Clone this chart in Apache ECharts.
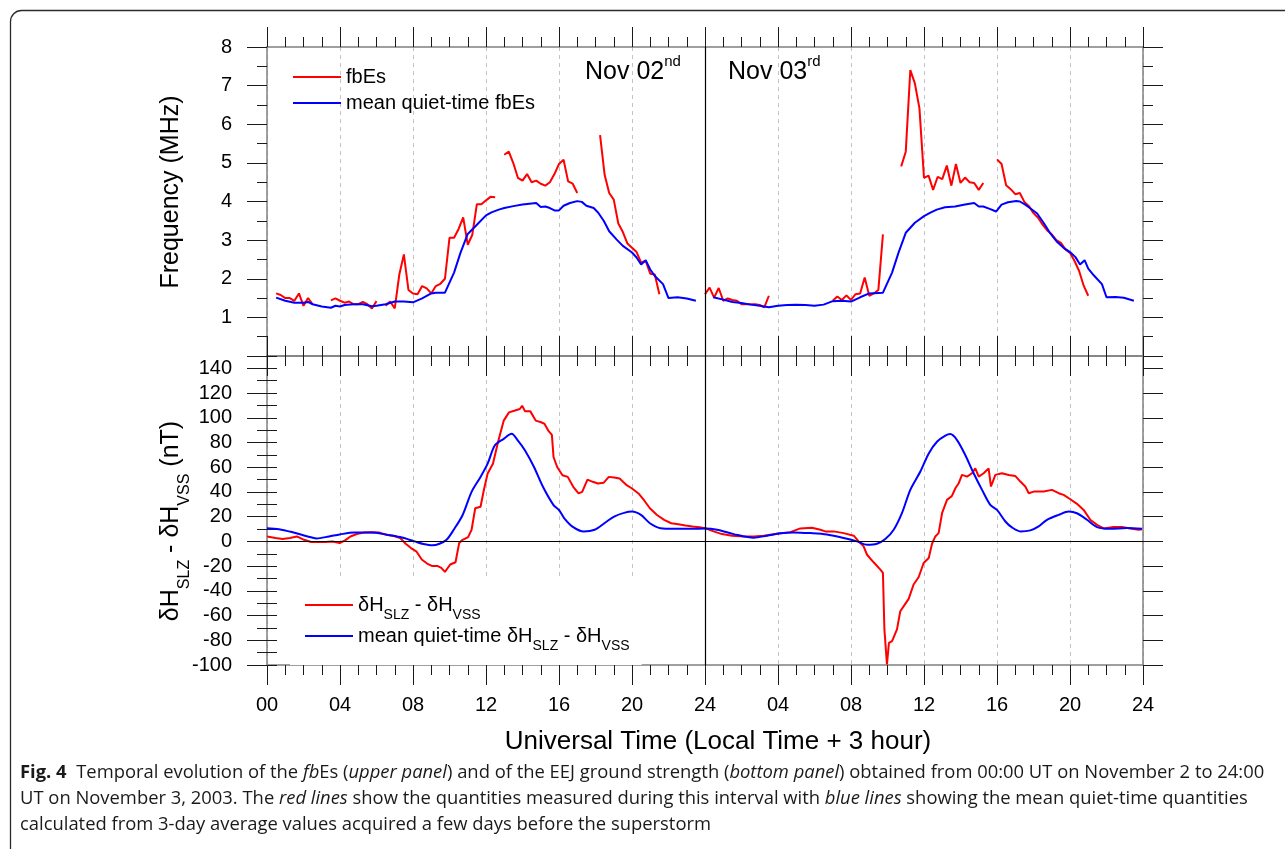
<!DOCTYPE html>
<html>
<head>
<meta charset="utf-8">
<script src="https://cdn.jsdelivr.net/npm/echarts@6/dist/echarts.min.js"></script>
<style>
html,body{margin:0;padding:0;background:#fff;}
#chart{width:1285px;height:849px;}
</style>
</head>
<body>
<div id="chart"></div>
<script>
// ---------- tick labels ----------
const xTickLabels = ['00','04','08','12','16','20','24','04','08','12','16','20','24'];

// ---------- upper panel: fbEs (MHz), null = gap ----------
const fbesHours = [
  0.5,0.75,1.0,1.25,1.5,1.75,2.0,2.25,2.5, 3.0,
  3.5,3.75,4.0,4.25,4.5,4.75,5.0,5.25,5.5,5.75,6.0, 6.25,
  6.5,6.75,7.0,7.25,7.5,7.75,8.0,8.25,8.5,8.75,9.0,9.25,9.5,9.75,10.0,10.25,10.5,10.75,11.0,11.25,11.5,11.75,12.0,12.25,12.5, 12.75,
  13.0,13.25,13.5,13.75,14.0,14.25,14.5,14.75,15.0,15.25,15.5,15.75,16.0,16.25,16.5,16.75,17.0, 17.5,
  18.25,18.5,18.75,19.0,19.25,19.5,19.75,20.0,20.25,20.5,20.75,21.0,21.25,21.5, 22.5,
  24.0,24.25,24.5,24.75,25.0,25.25,25.5,25.75,26.0,26.25,26.5,26.75,27.0,27.25,27.5, 29.0,
  31.0,31.25,31.5,31.75,32.0,32.25,32.5,32.75,33.0,33.25,33.5,33.75, 34.25,
  34.75,35.0,35.25,35.5,35.75,36.0,36.25,36.5,36.75,37.0,37.25,37.5,37.75,38.0,38.25,38.5,38.75,39.0,39.25, 39.6,
  40.0,40.25,40.5,40.75,41.0,41.25,41.5,41.75,42.0,42.25,42.5,42.75,43.0,43.25,43.5,43.75,44.0,44.25,44.5,44.75,45.0
];
const fbesMHz = [
  1.62,1.58,1.50,1.50,1.43,1.62,1.30,1.50,1.34, null,
  1.44,1.49,1.43,1.38,1.41,1.34,1.34,1.40,1.34,1.23,1.42, null,
  1.30,1.41,1.23,2.11,2.63,1.71,1.62,1.60,1.81,1.75,1.62,1.81,1.87,2.00,3.06,3.06,3.29,3.59,2.88,3.14,3.93,3.93,4.03,4.12,4.11, null,
  5.21,5.29,4.99,4.61,4.54,4.71,4.50,4.54,4.46,4.41,4.50,4.71,4.97,5.08,4.52,4.46,4.22, null,
  5.72,4.69,4.22,4.05,3.43,3.21,2.91,2.80,2.69,2.42,2.46,2.13,2.11,1.60, null,
  1.60,1.77,1.51,1.76,1.43,1.49,1.45,1.43,1.34,1.34,1.34,1.34,1.32,1.26,1.56, null,
  1.43,1.54,1.45,1.57,1.45,1.60,1.62,2.03,1.56,1.62,1.71,3.15, null,
  4.91,5.29,7.40,7.06,6.41,4.61,4.67,4.30,4.64,4.58,4.93,4.41,4.97,4.48,4.62,4.50,4.48,4.30,4.48, null,
  5.09,4.97,4.42,4.32,4.19,4.22,3.99,3.88,3.70,3.58,3.40,3.25,3.15,3.00,2.93,2.76,2.67,2.46,2.20,1.82,1.56
];

// ---------- upper panel: mean quiet-time fbEs ----------
const fbesMeanHours = [
  0.5,1.0,1.5,2.0,2.25,2.5,3.0,3.5,3.75,4.0,4.25,4.75,5.25,5.75,6.0,6.5,7.0,7.5,8.0,8.5,9.0,9.25,9.75,
  10.25,10.6,11.0,11.5,12.0,12.3,12.7,13.0,13.5,14.0,14.5,14.75,15.0,15.25,15.5,15.75,16.0,16.25,16.6,17.0,
  17.25,17.5,17.9,18.15,18.45,18.75,19.15,19.5,20.0,20.25,20.5,20.75,21.0,21.25,21.7,22.0,22.5,23.0,23.5, 23.95,
  24.45,25.0,25.5,26.0,26.5,27.0,27.5,28.0,28.5,29.0,29.5,30.0,30.5,31.0,31.5,32.0,32.5,33.0,33.75,
  34.25,34.6,35.0,35.5,36.0,36.35,36.7,37.15,37.7,38.25,38.75,39.0,39.25,39.6,39.95,40.25,40.6,41.05,41.25,
  41.55,41.8,42.2,42.55,42.9,43.3,43.65,44.0,44.3,44.55,44.8,45.0,45.3,45.75,46.0,46.5,46.95,47.5
];
const fbesMeanMHz = [
  1.51,1.43,1.38,1.38,1.40,1.34,1.28,1.25,1.30,1.28,1.32,1.34,1.34,1.29,1.30,1.34,1.41,1.41,1.39,1.49,1.62,1.64,1.64,
  2.16,2.67,3.16,3.40,3.64,3.72,3.79,3.83,3.88,3.92,3.95,3.96,3.86,3.87,3.83,3.77,3.77,3.89,3.96,4.01,
  3.99,3.89,3.83,3.71,3.50,3.23,3.02,2.85,2.68,2.55,2.37,2.48,2.24,2.07,1.86,1.50,1.52,1.49,1.43, null,
  1.52,1.46,1.40,1.37,1.33,1.30,1.26,1.30,1.32,1.33,1.32,1.30,1.33,1.42,1.43,1.41,1.52,1.62,1.64,
  2.16,2.67,3.19,3.45,3.62,3.71,3.79,3.85,3.87,3.92,3.96,3.87,3.87,3.81,3.74,3.92,3.98,4.01,4.00,
  3.92,3.83,3.69,3.45,3.19,2.95,2.80,2.69,2.56,2.37,2.48,2.26,2.09,1.86,1.52,1.53,1.51,1.43
];

// ---------- lower panel: dH_SLZ - dH_VSS (nT) ----------
const dhHours = [
  0,0.47,0.86,1.25,1.64,2.03,2.42,2.81,3.2,3.59,3.98,4.28,4.57,4.96,5.35,5.74,6.13,6.52,6.91,7.3,7.6,7.89,8.18,8.48,8.77,
  9.06,9.36,9.55,9.75,10.04,10.33,10.53,10.72,11.02,11.21,11.41,11.7,11.9,12.09,12.38,12.68,12.97,13.26,13.55,13.85,13.98,
  14.14,14.43,14.73,15.02,15.21,15.41,15.61,15.7,15.9,16.19,16.48,16.78,17.07,17.27,17.56,17.85,18.14,18.44,18.73,19.02,
  19.32,19.71,20.0,20.39,20.68,20.98,21.37,21.76,22.15,22.54,22.93,23.32,23.71,24.0,
  24.47,24.93,25.48,26.12,26.67,27.21,27.95,28.68,29.22,29.86,30.32,30.59,31.05,31.6,32.15,32.42,32.69,32.88,33.24,33.61,
  33.75,33.83,33.97,34.08,34.25,34.52,34.7,34.89,35.16,35.43,35.71,35.98,36.26,36.44,36.62,36.8,36.99,37.26,37.53,37.72,
  37.9,38.08,38.36,38.63,38.81,39.0,39.27,39.54,39.67,39.91,40.27,40.64,41.0,41.28,41.55,41.74,42.01,42.56,43.01,43.38,
  43.65,44.02,44.38,44.75,45.11,45.48,45.84,46.39,46.85,47.31,47.76,47.95
];
const dhValues = [
  4.0,2.7,1.9,2.7,4.0,1.3,-0.5,-0.5,-0.5,0,-1.3,0.8,4.0,6.2,7.2,7.5,7.2,5.4,4.6,2.7,-1.9,-5.4,-8.0,-14.7,-17.9,
  -20,-20,-21.4,-24.6,-18.7,-16.9,-1.3,1.3,3.5,9.4,26.8,28,42.8,54.9,62.9,81.6,97.7,104.4,105.7,107.1,109.7,
  105.2,105.2,97.7,96.4,95,89.7,86.2,68.3,60.2,53.5,52.2,44.2,38.8,40.1,50,48.2,46.8,47.4,52.2,51.7,
  50.9,45.5,42.8,38.3,32.9,26.8,21.4,17.4,14.7,13.9,12.8,12.0,11.5,10.7,
  8.1,5.9,4.6,4.0,4.0,4.6,6.2,7.5,10.5,11.0,9.4,8.1,8.1,6.7,4.6,0,-4.0,-10.8,-16.9,-22.8,
  -25.5,-71.2,-99.5,-82,-80.6,-71.2,-56.5,-52.4,-46.5,-34.9,-28.8,-17.5,-13.4,-1.9,4.0,6.7,22.8,33.6,36.8,43,
  47,53.8,52.4,55.1,59.1,52.4,55.1,59.1,44.4,53.8,55.1,53.8,53.0,48.4,44.4,39.0,40.3,40.3,41.7,39.0,
  37.6,34.1,30.4,25.5,17.5,13.4,10.5,11.6,11.6,10.5,9.4,9.9
];

// ---------- lower panel: mean quiet-time dH ----------
const dhMeanHours = [
  0,0.66,1.45,2.23,2.71,3.4,3.98,4.77,5.74,6.52,7.3,8.09,8.57,9.06,9.45,9.84,10.23,10.72,11.21,11.7,12.09,12.48,12.97,
  13.4,13.75,14.14,14.63,15.12,15.7,16.0,16.29,16.78,17.36,17.95,18.54,19.02,19.61,20.0,20.49,20.98,21.56,22.34,23.32,24.0,
  24.66,25.57,26.67,27.4,28.13,28.86,29.77,30.68,31.6,32.33,32.88,33.42,33.88,34.34,34.79,35.25,35.8,36.26,36.71,37.17,
  37.44,37.81,38.26,38.72,39.18,39.63,40.0,40.46,40.82,41.28,41.83,42.28,42.74,43.38,43.93,44.38,44.93,45.48,46.21,47.12,47.95
];
const dhMeanValues = [
  10.7,9.9,7.2,4.0,2.4,4.0,5.6,7.2,7.2,5.6,3.5,0,-2.1,-3.2,-1.9,1.3,9.4,21.4,40.1,52.2,62.9,77.6,83,
  87,81.6,73.6,60.2,44.2,29.4,25.4,18.7,11.5,8.0,9.4,15.3,20.1,23.3,24.1,21.4,14.7,10.7,10.2,10.2,10.4,
  9.4,5.9,3.0,4.6,6.5,7.3,6.7,5.6,2.7,0,-2.7,-1.9,1.9,9.4,22.8,41.7,56.5,71.2,80.6,85.5,
  86.8,82,69.9,55.1,41.7,29.6,25.5,16.1,11.3,8.1,8.9,12.1,17.5,21.5,24.2,22.8,17.5,11.6,10.2,10.8,10.2
];

// ---------- build ----------
const FONT = '"Liberation Sans", Arial, Helvetica, sans-serif';
const CAP_FONT = '"Open Sans", "Noto Sans", sans-serif';
const RED = '#ff0000', BLUE = '#0000ff';
const AXIS_COLOR = '#808080', TICK_COLOR = '#1a1a1a';

function zip(h, v) { return h.map((x, i) => [x, v[i] === null ? '-' : v[i]]); }

function xAxisDef(gridIndex, position, showLabels, split) {
  return {
    type: 'value', gridIndex, position, min: 0, max: 48, interval: 4,
    axisLine: { show: true, onZero: false, lineStyle: { color: AXIS_COLOR, width: 1.5 } },
    axisTick: { show: true, inside: false, length: 20, lineStyle: { color: TICK_COLOR, width: 1 } },
    minorTick: { show: true, splitNumber: 4, length: 10, lineStyle: { color: TICK_COLOR, width: 1 } },
    axisLabel: { show: showLabels, margin: 30, fontSize: 20, color: '#000', fontFamily: FONT,
      formatter: v => xTickLabels[Math.round(v / 4)] },
    splitLine: { show: split, lineStyle: { color: '#c4c4c4', type: [4, 4], width: 1 } },
    minorSplitLine: { show: false }
  };
}
function yAxisDef(gridIndex, position, opts) {
  return Object.assign({
    type: 'value', gridIndex, position,
    axisLine: { show: true, onZero: false, lineStyle: { color: AXIS_COLOR, width: 1.5 } },
    axisTick: { show: true, inside: false, length: 20, lineStyle: { color: TICK_COLOR, width: 1 } },
    splitLine: { show: false },
    axisLabel: { show: false }
  }, opts);
}

const supRichLegend = {
  n: { fontSize: 20, fontFamily: FONT, color: '#000', lineHeight: 34 },
  s: { fontSize: 14, fontFamily: FONT, color: '#000', lineHeight: 14, verticalAlign: 'bottom' }
};

const option = {
  animation: false,
  backgroundColor: '#fff',
  grid: [
    { left: 267, top: 47, width: 876, height: 309, outerBoundsMode: 'none', containLabel: false },
    { left: 267, top: 356, width: 876, height: 309, outerBoundsMode: 'none', containLabel: false }
  ],
  xAxis: [
    xAxisDef(0, 'bottom', false, true),
    xAxisDef(0, 'top', false, false),
    xAxisDef(1, 'bottom', true, true),
    xAxisDef(1, 'top', false, false)
  ],
  yAxis: [
    yAxisDef(0, 'left', { min: 0, max: 8, interval: 1,
      minorTick: { show: true, splitNumber: 2, length: 10, lineStyle: { color: TICK_COLOR, width: 1 } },
      axisLabel: { show: true, margin: 35, fontSize: 20, color: '#000', fontFamily: FONT,
        formatter: v => (v === 0 ? '' : String(v)) } }),
    yAxisDef(0, 'right', { min: 0, max: 8, interval: 1,
      minorTick: { show: true, splitNumber: 2, length: 10, lineStyle: { color: TICK_COLOR, width: 1 } } }),
    yAxisDef(1, 'left', { min: -100, max: 150, interval: 20,
      axisLabel: { show: true, margin: 35, fontSize: 20, color: '#000', fontFamily: FONT, showMaxLabel: false,
        formatter: v => (v === 150 ? '' : String(v)) } }),
    yAxisDef(1, 'right', { min: -100, max: 150, interval: 20 }),
    yAxisDef(1, 'left', { min: -100, max: 150, interval: 10, axisLine: { show: false },
      axisTick: { show: true, inside: false, length: 10, lineStyle: { color: TICK_COLOR, width: 1 } } }),
    yAxisDef(1, 'right', { min: -100, max: 150, interval: 10, axisLine: { show: false },
      axisTick: { show: true, inside: false, length: 10, lineStyle: { color: TICK_COLOR, width: 1 } } })
  ],
  legend: [
    {
      data: ['fbEs', 'mean quiet-time fbEs'],
      orient: 'vertical', left: 293, top: 65, padding: 0,
      icon: 'rect', itemWidth: 48, itemHeight: 2, itemGap: 2,
      textStyle: { fontSize: 20, fontFamily: FONT, color: '#000', lineHeight: 24 },
      selectedMode: false
    },
    {
      data: ['dH', 'dHmean'],
      orient: 'vertical', left: 290, top: 580, padding: [15, 12, 12, 15],
      backgroundColor: '#fff',
      icon: 'rect', itemWidth: 48, itemHeight: 2, itemGap: 4,
      formatter: name => name === 'dH'
        ? '{n|δH}{s|SLZ}{n| - δH}{s|VSS}'
        : '{n|mean quiet-time δH}{s|SLZ}{n| - δH}{s|VSS}',
      textStyle: { fontSize: 20, fontFamily: FONT, color: '#000', rich: supRichLegend },
      selectedMode: false
    }
  ],
  graphic: [
    { type: 'rect', silent: true, z: 100,
      shape: { x: 10.5, y: 10.5, width: 1400, height: 1000, r: 11 },
      style: { fill: 'none', stroke: '#2b2b2b', lineWidth: 1.3 } },
    { type: 'text', x: 171, y: 192, rotation: Math.PI / 2, silent: true,
      style: { text: 'Frequency (MHz)', fontSize: 25, fontFamily: FONT, fill: '#000', align: 'center', verticalAlign: 'middle' } },
    { type: 'text', x: 171, y: 521, rotation: Math.PI / 2, silent: true,
      style: { text: '{n|δH}{s|SLZ}{n| - δH}{s|VSS}{n| (nT)}', align: 'center', verticalAlign: 'middle',
        rich: {
          n: { fontSize: 25, fontFamily: FONT, fill: '#000', lineHeight: 43 },
          s: { fontSize: 16, fontFamily: FONT, fill: '#000', lineHeight: 16, verticalAlign: 'bottom' }
        } } },
    { type: 'text', x: 585, y: 54, silent: true,
      style: { text: '{m|Nov 02}{s|nd}', align: 'left', verticalAlign: 'top',
        rich: {
          m: { fontSize: 25, fontFamily: FONT, fill: '#000', lineHeight: 37 },
          s: { fontSize: 15, fontFamily: FONT, fill: '#000', lineHeight: 16, verticalAlign: 'top' }
        } } },
    { type: 'text', x: 728, y: 54, silent: true,
      style: { text: '{m|Nov 03}{s|rd}', align: 'left', verticalAlign: 'top',
        rich: {
          m: { fontSize: 25, fontFamily: FONT, fill: '#000', lineHeight: 37 },
          s: { fontSize: 15, fontFamily: FONT, fill: '#000', lineHeight: 16, verticalAlign: 'top' }
        } } },
    { type: 'text', x: 718, y: 742, silent: true,
      style: { text: 'Universal Time (Local Time + 3 hour)', fontSize: 26, fontFamily: FONT, fill: '#000',
        align: 'center', verticalAlign: 'middle' } },
    { type: 'text', x: 20, y: 760, silent: true,
      style: {
        text: '{b|Fig. 4}{n|  Temporal evolution of the }{i|fb}{n|Es (}{i|upper panel}{n|) and of the EEJ ground strength (}{i|bottom panel}{n|) obtained from 00:00 UT on November 2 to 24:00}\n' +
              '{n|UT on November 3, 2003. The }{i|red lines}{n| show the quantities measured during this interval with }{i|blue lines}{n| showing the mean quiet-time quantities}\n' +
              '{n|calculated from 3-day average values acquired a few days before the superstorm}',
        align: 'left', verticalAlign: 'top',
        rich: {
          n: { fontSize: 18.4, fontFamily: CAP_FONT, fill: '#1a1a1a', lineHeight: 26 },
          i: { fontSize: 18.4, fontFamily: CAP_FONT, fontStyle: 'italic', fill: '#1a1a1a', lineHeight: 26 },
          b: { fontSize: 18.4, fontFamily: CAP_FONT, fontWeight: 'bold', fill: '#1a1a1a', lineHeight: 26 }
        }
      } }
  ],
  series: [
    { name: 'fbEs', type: 'line', xAxisIndex: 0, yAxisIndex: 0, data: zip(fbesHours, fbesMHz),
      symbol: 'none', connectNulls: false, lineStyle: { color: RED, width: 2 }, itemStyle: { color: RED },
      markLine: { silent: true, symbol: 'none', label: { show: false },
        lineStyle: { color: '#000', type: 'solid', width: 1.2 }, data: [{ xAxis: 24 }] } },
    { name: 'mean quiet-time fbEs', type: 'line', xAxisIndex: 0, yAxisIndex: 0, data: zip(fbesMeanHours, fbesMeanMHz),
      symbol: 'none', connectNulls: false, lineStyle: { color: BLUE, width: 2 }, itemStyle: { color: BLUE } },
    { name: 'dH', type: 'line', xAxisIndex: 2, yAxisIndex: 2, data: zip(dhHours, dhValues),
      symbol: 'none', lineStyle: { color: RED, width: 2 }, itemStyle: { color: RED },
      markLine: { silent: true, symbol: 'none', label: { show: false },
        lineStyle: { color: '#000', type: 'solid', width: 1.2 }, data: [{ xAxis: 24 }, { yAxis: 0 }] } },
    { name: 'dHmean', type: 'line', xAxisIndex: 2, yAxisIndex: 2, data: zip(dhMeanHours, dhMeanValues),
      symbol: 'none', smooth: 0.3, lineStyle: { color: BLUE, width: 2 }, itemStyle: { color: BLUE } }
  ]
};

const chart = echarts.init(document.getElementById('chart'), null, { renderer: 'canvas' });
chart.setOption(option);
</script>
</body>
</html>
